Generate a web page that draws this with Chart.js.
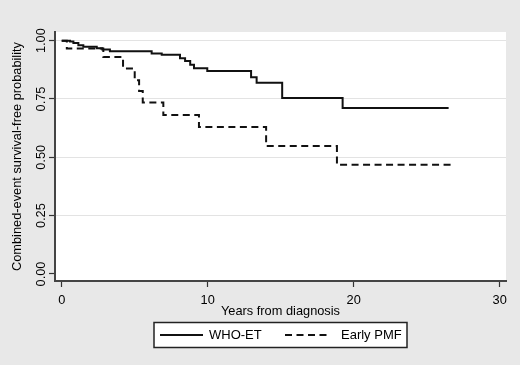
<!DOCTYPE html>
<html>
<head>
<meta charset="utf-8">
<script src="https://cdn.jsdelivr.net/npm/chart.js@4.4.1/dist/chart.umd.min.js"></script>
<style>
html,body{margin:0;padding:0;background:#e8e8e8;}
#wrap{width:520px;height:365px;}
</style>
</head>
<body>
<div id="wrap"><canvas id="c" width="520" height="365"></canvas></div>
<script>
// Data (Kaplan-Meier step curves)
const seriesNames = ["WHO-ET", "Early PMF"];
const whoEtYears  = [0, 0.57, 0.8, 1.14, 1.48, 2.4, 2.78, 3.3, 6.16, 6.85, 8.1, 8.45, 8.8, 9.06, 9.97, 12.97, 13.35, 15.1, 19.24, 26.5];
const whoEtSurv   = [1, 0.996, 0.99, 0.98, 0.974, 0.967, 0.962, 0.955, 0.945, 0.939, 0.925, 0.913, 0.897, 0.882, 0.87, 0.843, 0.82, 0.754, 0.711, 0.711];
const pmfYears    = [0, 0.35, 2.85, 4.2, 5.0, 5.3, 5.55, 6.96, 9.4, 14.0, 18.85, 26.9];
const pmfSurv     = [1, 0.966, 0.93, 0.881, 0.83, 0.784, 0.735, 0.681, 0.63, 0.548, 0.468, 0.468];
const xTicks = [0, 10, 20, 30];
const yTicks = [0, 0.25, 0.5, 0.75, 1];
const xTitle = "Years from diagnosis";
const yTitle = "Combined-event survival-free probability";

const FONT = '"Liberation Sans", Arial, Helvetica, sans-serif';
const toPts = (xs, ys) => xs.map((x, i) => ({x: x, y: ys[i]}));

const bgPlugin = {
  id: 'bg',
  beforeDraw(chart) {
    const {ctx, chartArea: a} = chart;
    ctx.save();
    ctx.fillStyle = '#e8e8e8';
    ctx.fillRect(0, 0, chart.width, chart.height);
    ctx.fillStyle = '#ffffff';
    ctx.fillRect(a.left, a.top, a.right - a.left, a.bottom - a.top);
    ctx.restore();
  }
};

const legendPlugin = {
  id: 'boxLegend',
  afterDraw(chart) {
    const {ctx} = chart;
    const a = chart.chartArea;
    const cx = (a.left + a.right) / 2;
    const bx = cx - 126.5, by = 322.5, bw = 253, bh = 25;
    const ly = by + bh / 2;
    ctx.save();
    ctx.fillStyle = '#ffffff';
    ctx.fillRect(bx, by, bw, bh);
    ctx.strokeStyle = '#222';
    ctx.lineWidth = 1.5;
    ctx.strokeRect(bx, by, bw, bh);
    const ds = chart.data.datasets;
    const items = [{x0: bx + 6, x1: bx + 49, tx: bx + 55}, {x0: bx + 131, x1: bx + 174, tx: bx + 187}];
    items.forEach((it, i) => {
      ctx.strokeStyle = ds[i].borderColor;
      ctx.lineWidth = 2;
      ctx.setLineDash(ds[i].borderDash || []);
      ctx.beginPath();
      ctx.moveTo(it.x0, ly);
      ctx.lineTo(it.x1, ly);
      ctx.stroke();
      ctx.setLineDash([]);
      ctx.fillStyle = '#000';
      ctx.font = '13px ' + FONT;
      ctx.textBaseline = 'middle';
      ctx.textAlign = 'left';
      ctx.fillText(ds[i].label, it.tx, ly + 0.5);
    });
    ctx.restore();
  }
};

new Chart(document.getElementById('c'), {
  type: 'line',
  data: {
    datasets: [
      {label: seriesNames[0], data: toPts(whoEtYears, whoEtSurv), stepped: 'before',
       borderColor: '#111', borderWidth: 2, pointRadius: 0, fill: false},
      {label: seriesNames[1], data: toPts(pmfYears, pmfSurv), stepped: 'before',
       borderColor: '#111', borderWidth: 2, borderDash: [7, 4.5], pointRadius: 0, fill: false}
    ]
  },
  plugins: [bgPlugin, legendPlugin],
  options: {
    responsive: false,
    animation: false,
    devicePixelRatio: 1,
    layout: {padding: {top: 32, right: 14, bottom: 0, left: 0}},
    plugins: {legend: {display: false}, tooltip: {enabled: false}},
    scales: {
      x: {
        type: 'linear', min: -0.46, max: 30.43,
        afterBuildTicks: s => { s.ticks = xTicks.map(v => ({value: v})); },
        afterFit: s => { s.height = 84; },
        ticks: {autoSkip: false, color: '#000', font: {family: FONT, size: 12.8}, padding: 5.5, maxRotation: 0,
                callback: v => String(v)},
        grid: {display: true, drawOnChartArea: false, drawTicks: true, tickLength: 6, tickColor: '#333', tickWidth: 1.2},
        border: {display: true, color: '#444', width: 2},
        title: {display: true, text: xTitle, color: '#000', font: {family: FONT, size: 12.8}, padding: {top: 0, bottom: 46}}
      },
      y: {
        type: 'linear', min: -0.03, max: 1.037,
        afterBuildTicks: s => { s.ticks = yTicks.map(v => ({value: v})); },
        afterFit: s => { s.width = 55; },
        ticks: {autoSkip: false, color: '#000', font: {family: FONT, size: 12.8}, minRotation: 90, maxRotation: 90,
                crossAlign: 'center', padding: -4.5, callback: v => v.toFixed(2)},
        grid: {display: true, drawTicks: true, tickLength: 6, tickColor: '#333', tickWidth: 1.2,
               color: c => (c.tick && c.tick.value === 0) ? 'rgba(0,0,0,0)' : '#e3e3e3', lineWidth: 1},
        border: {display: true, color: '#444', width: 2},
        title: {display: true, text: yTitle, color: '#000', font: {family: FONT, size: 12.8}, padding: {top: 10, bottom: 0}}
      }
    }
  }
});
</script>
</body>
</html>
